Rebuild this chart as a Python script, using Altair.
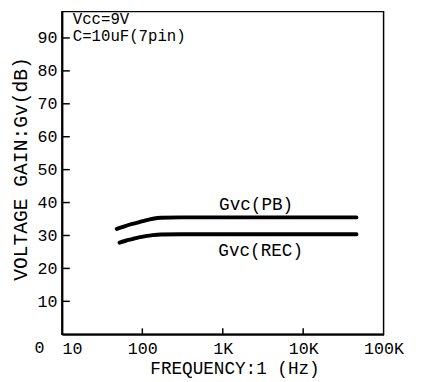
import altair as alt
import pandas as pd

# Gvc(PB) curve
pb_freq = [48, 60, 75, 90, 110, 135, 170, 300, 1000, 10000, 46000]
pb_gain = [32.0, 32.8, 33.5, 34.0, 34.6, 35.1, 35.4, 35.5, 35.5, 35.5, 35.5]
# Gvc(REC) curve
rec_freq = [52, 62, 75, 90, 110, 135, 170, 300, 1000, 10000, 46000]
rec_gain = [27.8, 28.4, 28.9, 29.4, 29.8, 30.1, 30.3, 30.4, 30.4, 30.4, 30.4]

x_ticks = [10, 100, 1000, 10000, 100000]
x_tick_labels = ["10", "100", "1K", "10K", "100K"]
y_ticks = [0, 10, 20, 30, 40, 50, 60, 70, 80, 90]

series_labels = ["Gvc(PB)", "Gvc(REC)"]
series_label_x = [900, 880]
series_label_y = [39.3, 25.3]

notes = ["Vcc=9V", "C=10uF(7pin)"]
notes_x = [10, 10]
notes_y = [95.6, 90.6]

FONT = "Liberation Mono"

rows = []
for f, g in zip(pb_freq, pb_gain):
    rows.append({"f": f, "g": g, "s": "PB"})
for f, g in zip(rec_freq, rec_gain):
    rows.append({"f": f, "g": g, "s": "REC"})
df = pd.DataFrame(rows)

lab_expr = "datum.value==10?'10':datum.value==100?'100':datum.value==1000?'1K':datum.value==10000?'10K':datum.value==100000?'100K':''"

xscale = alt.Scale(type="log", domain=[10, 100000])
yscale = alt.Scale(domain=[0, 98], nice=False, zero=False)

xaxis = alt.Axis(
    values=x_ticks, labelExpr=lab_expr, ticks=False, grid=False,
    domainColor="black", domainWidth=2, labelFlush=False, labelOverlap=False,
    labelFont=FONT, labelFontSize=17, labelColor="black", labelPadding=7,
    labelAlign={"condition": {"test": "datum.value == 10", "value": "left"}, "value": "center"},
    title="FREQUENCY:1 (Hz)", titleFont=FONT, titleFontSize=18, titleFontWeight="normal",
    titleColor="black", titleX=176, titleY=35, titleBaseline="middle", titleAlign="center",
)
yaxis = alt.Axis(
    values=y_ticks[1:], ticks=False, grid=False, labelOverlap=False,
    domainColor="black", domainWidth=2,
    labelFont=FONT, labelFontSize=17, labelColor="black", labelFlush=False,
    labelPadding=5,
    title="VOLTAGE GAIN:Gv(dB)", titleFont=FONT, titleFontSize=20, titleFontWeight="normal",
    titleColor="black", titleX=-42, titleY=160, titleBaseline="middle", titleAlign="center",
    titleAngle=270,
)

lines = alt.Chart(df).mark_line(color="black", strokeWidth=4, strokeCap="round", interpolate="monotone").encode(
    x=alt.X("f:Q", scale=xscale, axis=xaxis),
    y=alt.Y("g:Q", scale=yscale, axis=yaxis),
    detail="s:N",
)

ytick_df = pd.DataFrame({"v": y_ticks[1:]})
yticks = alt.Chart(ytick_df).mark_rule(color="black", strokeWidth=1.5).encode(
    y=alt.Y("v:Q", scale=yscale), x=alt.value(0), x2=alt.value(8)
)
xtick_df = pd.DataFrame({"v": x_ticks[1:4]})
xticks = alt.Chart(xtick_df).mark_rule(color="black", strokeWidth=1.5).encode(
    x=alt.X("v:Q", scale=xscale), y=alt.value(329), y2=alt.value(323)
)

zero_df = pd.DataFrame({"t": [str(y_ticks[0])], "x": [x_ticks[0]], "y": [y_ticks[0]]})
zero_text = alt.Chart(zero_df).mark_text(font=FONT, fontSize=17, align="center", baseline="middle", color="black", dx=-23, dy=14).encode(
    x=alt.X("x:Q", scale=xscale), y=alt.Y("y:Q", scale=yscale), text="t:N"
)

lab_df = pd.DataFrame({"t": series_labels, "x": series_label_x, "y": series_label_y})
labels = alt.Chart(lab_df).mark_text(font=FONT, fontSize=18, align="left", baseline="middle", color="black").encode(
    x=alt.X("x:Q", scale=xscale), y=alt.Y("y:Q", scale=yscale), text="t:N"
)

note_df = pd.DataFrame({"t": notes, "x": notes_x, "y": notes_y})
note_text = alt.Chart(note_df).mark_text(font=FONT, fontSize=16, align="left", baseline="middle", color="black", dx=11).encode(
    x=alt.X("x:Q", scale=xscale), y=alt.Y("y:Q", scale=yscale), text="t:N"
)

chart = alt.layer(lines, yticks, xticks, zero_text, labels, note_text).properties(
    width=328, height=329,
    autosize=alt.AutoSizeParams(type="none"),
    padding={"left": 55, "top": 0, "right": 30, "bottom": 45},
    background="white",
).configure_view(stroke="black", strokeWidth=1.5, clip=False)

chart.save("out.html", embed_options={"renderer": "svg", "actions": False})
